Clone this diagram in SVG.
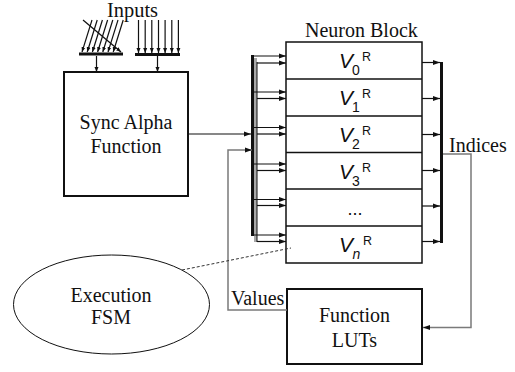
<svg xmlns="http://www.w3.org/2000/svg" width="515" height="372" viewBox="0 0 515 372">
<style>
.t{font-family:"Liberation Serif","Times New Roman",serif;font-size:20px;fill:#111}
.v{font-family:"Liberation Sans",Arial,sans-serif;fill:#111}
.vi{font-style:italic;font-size:21px}
.vs{font-size:14px}
.vr{font-size:12.5px}
.box{fill:#fff;stroke:#111;stroke-width:2}
.nb{fill:#fff;stroke:#111;stroke-width:1.5}
.w{fill:none;stroke:#111;stroke-width:1.2}
.g{fill:none;stroke:#7a7a7a;stroke-width:1.5}
</style>
<defs>
<marker id="a" markerUnits="userSpaceOnUse" markerWidth="8" markerHeight="6" refX="7" refY="3" orient="auto">
<path d="M0,0.5 L7,3 L0,5.5 Z" fill="#111"/>
</marker>
<marker id="s" markerUnits="userSpaceOnUse" markerWidth="6" markerHeight="5" refX="5" refY="2.5" orient="auto">
<path d="M0,0.5 L5,2.5 L0,4.5 Z" fill="#111"/>
</marker>
</defs>

<g id="inputs">
<text class="t" x="107" y="17" font-size="19" textLength="51" lengthAdjust="spacingAndGlyphs">Inputs</text>
<rect x="79" y="52.5" width="44" height="3" fill="#111"/>
<rect x="135" y="53" width="45" height="3" fill="#111"/>
<g class="w" stroke-width="1">
<line x1="92" y1="20" x2="82" y2="52" marker-end="url(#s)"/>
<line x1="97.2" y1="20" x2="87.2" y2="52" marker-end="url(#s)"/>
<line x1="102.4" y1="20" x2="92.4" y2="52" marker-end="url(#s)"/>
<line x1="107.6" y1="20" x2="97.6" y2="52" marker-end="url(#s)"/>
<line x1="112.8" y1="20" x2="102.8" y2="52" marker-end="url(#s)"/>
<line x1="118" y1="20" x2="108" y2="52" marker-end="url(#s)"/>
<line x1="123.2" y1="20" x2="113.2" y2="52" marker-end="url(#s)"/>
<line x1="83" y1="20" x2="121" y2="52" marker-end="url(#s)"/>
<line x1="138.5" y1="20" x2="138.5" y2="53" marker-end="url(#s)"/>
<line x1="145.2" y1="20" x2="145.2" y2="53" marker-end="url(#s)"/>
<line x1="151.8" y1="20" x2="151.8" y2="53" marker-end="url(#s)"/>
<line x1="158.5" y1="20" x2="158.5" y2="53" marker-end="url(#s)"/>
<line x1="165.1" y1="20" x2="165.1" y2="53" marker-end="url(#s)"/>
<line x1="171.8" y1="20" x2="171.8" y2="53" marker-end="url(#s)"/>
<line x1="178.4" y1="20" x2="178.4" y2="53" marker-end="url(#s)"/>
<line x1="96.5" y1="56" x2="96.5" y2="72" marker-end="url(#s)"/>
<line x1="157.5" y1="56" x2="157.5" y2="72" marker-end="url(#s)"/>
</g>
</g>

<g id="sync">
<rect class="box" x="64" y="72" width="124" height="124"/>
<text class="t" x="126" y="129" text-anchor="middle">Sync Alpha</text>
<text class="t" x="126" y="153" text-anchor="middle">Function</text>
</g>

<g id="neuron">
<text class="t" x="305" y="37">Neuron Block</text>
<rect class="nb" x="286" y="42" width="136" height="221"/>
<g stroke="#111" stroke-width="1.5">
<line x1="286" y1="79" x2="422" y2="79"/>
<line x1="286" y1="116" x2="422" y2="116"/>
<line x1="286" y1="152.5" x2="422" y2="152.5"/>
<line x1="286" y1="189" x2="422" y2="189"/>
<line x1="286" y1="226" x2="422" y2="226"/>
</g>
<g class="v">
<text x="339" y="68"><tspan class="vi">V</tspan><tspan class="vs" x="352" y="75">0</tspan><tspan class="vr" x="362" y="61">R</tspan></text>
<text x="339" y="105"><tspan class="vi">V</tspan><tspan class="vs" x="352" y="112">1</tspan><tspan class="vr" x="362" y="98">R</tspan></text>
<text x="339" y="142"><tspan class="vi">V</tspan><tspan class="vs" x="352" y="149">2</tspan><tspan class="vr" x="362" y="135">R</tspan></text>
<text x="339" y="178.5"><tspan class="vi">V</tspan><tspan class="vs" x="352" y="185.5">3</tspan><tspan class="vr" x="362" y="171.5">R</tspan></text>
<text x="355" y="215" font-size="18" text-anchor="middle">...</text>
<text x="339" y="252"><tspan class="vi">V</tspan><tspan class="vs" font-style="italic" x="352.5" y="259">n</tspan><tspan class="vr" x="363" y="245">R</tspan></text>
</g>
</g>

<g id="fsm">
<ellipse cx="111.5" cy="304.5" rx="98" ry="49.5" fill="#fff" stroke="#111" stroke-width="1"/>
<text class="t" x="111" y="302" text-anchor="middle">Execution</text>
<text class="t" x="111" y="324" text-anchor="middle">FSM</text>
</g>

<g id="luts">
<rect class="box" x="287" y="289" width="135" height="75"/>
<text class="t" x="354.5" y="322" text-anchor="middle">Function</text>
<text class="t" x="354.5" y="347" text-anchor="middle">LUTs</text>
</g>

<g id="connectors">
<rect x="251" y="55" width="3" height="181" fill="#111"/>
<rect x="254" y="58" width="3" height="184" fill="#a8a8a8"/>
<line x1="257" y1="62" x2="257" y2="242" stroke="#111" stroke-width="1"/>
<g class="w">
<line x1="252" y1="56" x2="286" y2="56" marker-end="url(#a)"/>
<line x1="257" y1="63" x2="286" y2="63" marker-end="url(#a)"/>
<line x1="252" y1="92" x2="286" y2="92" marker-end="url(#a)"/>
<line x1="257" y1="98.5" x2="286" y2="98.5" marker-end="url(#a)"/>
<line x1="252" y1="127.5" x2="286" y2="127.5" marker-end="url(#a)"/>
<line x1="257" y1="134" x2="286" y2="134" marker-end="url(#a)"/>
<line x1="252" y1="164" x2="286" y2="164" marker-end="url(#a)"/>
<line x1="257" y1="170.5" x2="286" y2="170.5" marker-end="url(#a)"/>
<line x1="252" y1="199.5" x2="286" y2="199.5" marker-end="url(#a)"/>
<line x1="257" y1="205.5" x2="286" y2="205.5" marker-end="url(#a)"/>
<line x1="252" y1="235" x2="286" y2="235" marker-end="url(#a)"/>
<line x1="257" y1="241.5" x2="286" y2="241.5" marker-end="url(#a)"/>
<line x1="188" y1="134" x2="251" y2="134" marker-end="url(#a)"/>
<line x1="422" y1="62.5" x2="440" y2="62.5" marker-end="url(#a)"/>
<line x1="422" y1="98.5" x2="440" y2="98.5" marker-end="url(#a)"/>
<line x1="422" y1="134.5" x2="440" y2="134.5" marker-end="url(#a)"/>
<line x1="422" y1="170.5" x2="440" y2="170.5" marker-end="url(#a)"/>
<line x1="422" y1="206" x2="440" y2="206" marker-end="url(#a)"/>
<line x1="422" y1="241.5" x2="440" y2="241.5" marker-end="url(#a)"/>
</g>
<rect x="440" y="62" width="3" height="181" fill="#111"/>
<path class="g" d="M443,154 H471 V327.5 H423" marker-end="url(#a)"/>
<path class="g" d="M287,310 H228 V150 H252" marker-end="url(#a)"/>
<line x1="182" y1="270" x2="291" y2="248" stroke="#333" stroke-width="1" stroke-dasharray="3,2"/>
<text class="t" x="449" y="152">Indices</text>
<text class="t" x="231" y="305">Values</text>
</g>
</svg>
